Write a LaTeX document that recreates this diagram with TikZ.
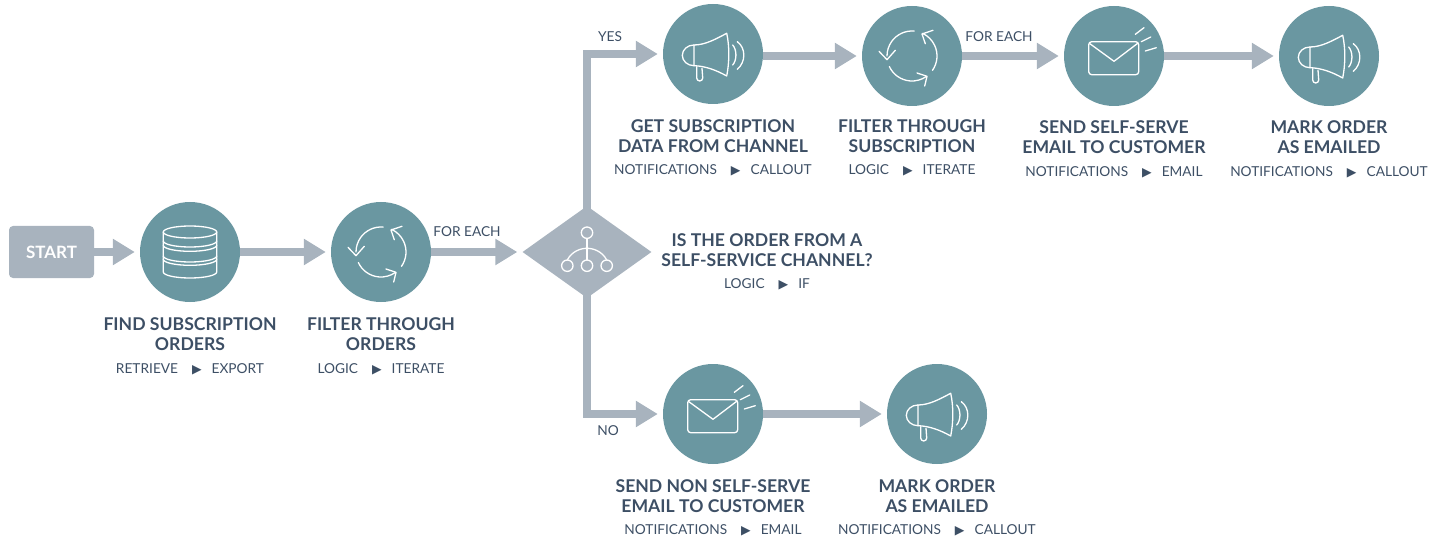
\documentclass[tikz,border=0pt]{standalone}
\usepackage{fontspec}
\setmainfont{Lato}
\newfontfamily\glyphfont{DejaVu Sans}
\usetikzlibrary{positioning,arrows.meta,shapes.geometric}

\definecolor{tealfill}{HTML}{6A97A1}
\definecolor{slatefill}{HTML}{A8B3BE}
\definecolor{inktext}{HTML}{3D4F65}

\newcommand{\via}[2]{#1\hspace{14pt}{\glyphfont\fontsize{12.5}{12}\selectfont\char"25B6}\hspace{10pt}#2}

\tikzset{
	stepcircle/.style={circle,fill=tealfill,minimum size=100pt,inner sep=0pt},
	flowarrow/.style={line width=8pt,draw=slatefill,-{Triangle[length=22pt,width=25pt]},shorten >=5pt},
	steptitle/.style={text=inktext,font=\bfseries\fontsize{17.6}{20}\selectfont,align=center,inner sep=0pt},
	stepsub/.style={text=inktext,font=\fontsize{13.7}{15}\selectfont,inner sep=0pt},
	icon/.style={draw=white,line width=1.3pt,line cap=round,line join=round},
	pics/megaphone/.style={code={
		\draw[icon] (-19,9) .. controls (-8,9) and (3,15) .. (13.7,20.7) .. controls (16.5,8) and (16.5,-8) .. (13.7,-22) .. controls (3,-16) and (-8,-12) .. (-19,-11.7) -- cycle;
		\draw[icon] (-19,9) arc[start angle=90,end angle=270,x radius=11.7,y radius=10.35];
		\draw[icon] (-16.3,-12.7) -- (-16.3,-24) arc[start angle=180,end angle=360,radius=3pt] -- (-11,-14.3);
		\draw[icon] (19.7,9) .. controls (24,4) and (24,-6) .. (19.7,-11);
		\draw[icon] (24.3,12.3) .. controls (33,6) and (33,-8) .. (24.3,-15.3);
	}},
	pics/envelope/.style={code={
		\draw[icon,rounded corners=3pt] (-25.3,14.3) rectangle (24.7,-18.7);
		\draw[icon] (-24.7,12.7) -- (0,-5.3) -- (23.7,12.7);
		\draw[icon] (21.3,21.7) -- (30,28.3);
		\draw[icon] (27.3,14.3) -- (36.7,19);
		\draw[icon] (31.3,5) -- (42.3,8.3);
	}},
	pics/cyclearrows/.style={code={
		\draw[icon] (85:25) arc[start angle=85,end angle=180,radius=25pt];
		\draw[icon] (-33,4.7) -- (-25,-3.7) -- (-16.7,5.7);
		\draw[icon] (-35:25) arc[start angle=-35,end angle=65,radius=25pt];
		\draw[icon] (21,25.7) -- (10,22) -- (13.3,12.3);
		\draw[icon] (205:25) arc[start angle=205,end angle=305,radius=25pt];
		\draw[icon] (5,-17) -- (15,-20.3) -- (12.7,-30);
	}},
	pics/database/.style={code={
		\draw[icon] (0,20) ellipse[x radius=26.7,y radius=6];
		\draw[icon] (-26.7,20) -- (-26.7,-20) arc[start angle=180,end angle=360,x radius=26.7,y radius=6] -- (26.7,20);
		\draw[icon] (-26.7,11) arc[start angle=180,end angle=360,x radius=26.7,y radius=6];
		\draw[icon] (-26.7,6.7) arc[start angle=180,end angle=360,x radius=26.7,y radius=6];
		\draw[icon] (-26.7,-4) arc[start angle=180,end angle=360,x radius=26.7,y radius=6];
		\draw[icon] (-26.7,-7.3) arc[start angle=180,end angle=360,x radius=26.7,y radius=6];
	}},
	pics/branching/.style={code={
		\draw[icon] (0,19.3) circle[radius=5.7pt];
		\draw[icon] (-19.7,-13.7) circle[radius=5.7pt];
		\draw[icon] (0,-13.7) circle[radius=5.7pt];
		\draw[icon] (19.7,-13.7) circle[radius=5.7pt];
		\draw[icon] (0,13.6) -- (0,-8);
		\draw[icon] (-19.7,-8) .. controls (-15,1) and (-6,3.7) .. (0,3.7) .. controls (6,3.7) and (15,1) .. (19.7,-8);
	}},
}

\begin{document}
\begin{tikzpicture}[x=1pt,y=1pt,on grid]
	\useasboundingbox (0,-537) rectangle (1442,0);
	%
	\node[fill=slatefill,rounded corners=4pt,minimum width=85pt,minimum height=52pt,inner sep=0pt,text=white,font=\bfseries\fontsize{17}{20}\selectfont] (start) at (51.5,-252) {START};
	\node[stepcircle] (find) at (190,-252) {};
	\node[stepcircle,right=191pt of find] (filter) {};
	\node[diamond,fill=slatefill,aspect=1.4,minimum width=129pt,minimum height=92pt,inner sep=0pt,right=206pt of filter] (branch) {};
	\node[stepcircle,above right=198pt and 126pt of branch] (getsub) {};
	\node[stepcircle,right=199pt of getsub,yshift=-2pt] (filtersub) {};
	\node[stepcircle,right=202pt of filtersub] (selfmail) {};
	\node[stepcircle,right=215pt of selfmail] (markself) {};
	\node[stepcircle,below right=162pt and 126pt of branch] (nonmail) {};
	\node[stepcircle,right=224pt of nonmail] (marknon) {};
	%
	\node[steptitle,below=82pt of find] (findtitle) {FIND SUBSCRIPTION\\ORDERS};
	\node[stepsub,below=35pt of findtitle] (findsub) {\via{RETRIEVE}{EXPORT}};
	\node[steptitle,below=82pt of filter] (filtertitle) {FILTER THROUGH\\ORDERS};
	\node[stepsub,below=35pt of filtertitle] (filterlabel) {\via{LOGIC}{ITERATE}};
	\node[steptitle,right=180pt of branch,yshift=1.5pt] (branchtitle) {IS THE ORDER FROM A\\SELF-SERVICE CHANNEL?};
	\node[stepsub,below=34pt of branchtitle] (branchsub) {\via{LOGIC}{IF}};
	\node[steptitle,below=82pt of getsub] (getsubtitle) {GET SUBSCRIPTION\\DATA FROM CHANNEL};
	\node[stepsub,below=34pt of getsubtitle] (getsublabel) {\via{NOTIFICATIONS}{CALLOUT}};
	\node[steptitle,below=80pt of filtersub] (filtersubtitle) {FILTER THROUGH\\SUBSCRIPTION};
	\node[stepsub,below=34pt of filtersubtitle] (filtersublabel) {\via{LOGIC}{ITERATE}};
	\node[steptitle,below=81pt of selfmail] (selfmailtitle) {SEND SELF-SERVE\\EMAIL TO CUSTOMER};
	\node[stepsub,below=35pt of selfmailtitle] (selfmaillabel) {\via{NOTIFICATIONS}{EMAIL}};
	\node[steptitle,below=81pt of markself] (markselftitle) {MARK ORDER\\AS EMAILED};
	\node[stepsub,below=35pt of markselftitle] (markselflabel) {\via{NOTIFICATIONS}{CALLOUT}};
	\node[steptitle,below=82pt of nonmail] (nonmailtitle) {SEND NON SELF-SERVE\\EMAIL TO CUSTOMER};
	\node[stepsub,below=34pt of nonmailtitle] (nonmaillabel) {\via{NOTIFICATIONS}{EMAIL}};
	\node[steptitle,below=82pt of marknon] (marknontitle) {MARK ORDER\\AS EMAILED};
	\node[stepsub,below=34pt of marknontitle] (marknonlabel) {\via{NOTIFICATIONS}{CALLOUT}};
	%
	\node[stepsub] (foreachone) at (467,-232) {FOR EACH};
	\node[stepsub] (foreachtwo) at (999,-37) {FOR EACH};
	\node[stepsub] (yes) at (610,-37) {YES};
	\node[stepsub] (no) at (608,-431) {NO};
	%
	\draw[flowarrow] (start) -- (find);
	\draw[flowarrow] (find) -- (filter);
	\draw[flowarrow] (filter) -- (branch);
	\draw[flowarrow,shorten <=-6pt] (branch.north) |- (getsub);
	\draw[flowarrow,shorten <=-6pt] (branch.south) |- (nonmail);
	\draw[flowarrow] (getsub.east |- filtersub) -- (filtersub);
	\draw[flowarrow] (filtersub) -- (selfmail);
	\draw[flowarrow] (selfmail) -- (markself);
	\draw[flowarrow] (nonmail) -- (marknon);
	%
	\pic at (find) {database};
	\pic at (filter) {cyclearrows};
	\pic at (branch) {branching};
	\pic at (getsub) {megaphone};
	\pic at (filtersub) {cyclearrows};
	\pic at (selfmail) {envelope};
	\pic at (markself) {megaphone};
	\pic at (nonmail) {envelope};
	\pic at (marknon) {megaphone};
\end{tikzpicture}
\end{document}
